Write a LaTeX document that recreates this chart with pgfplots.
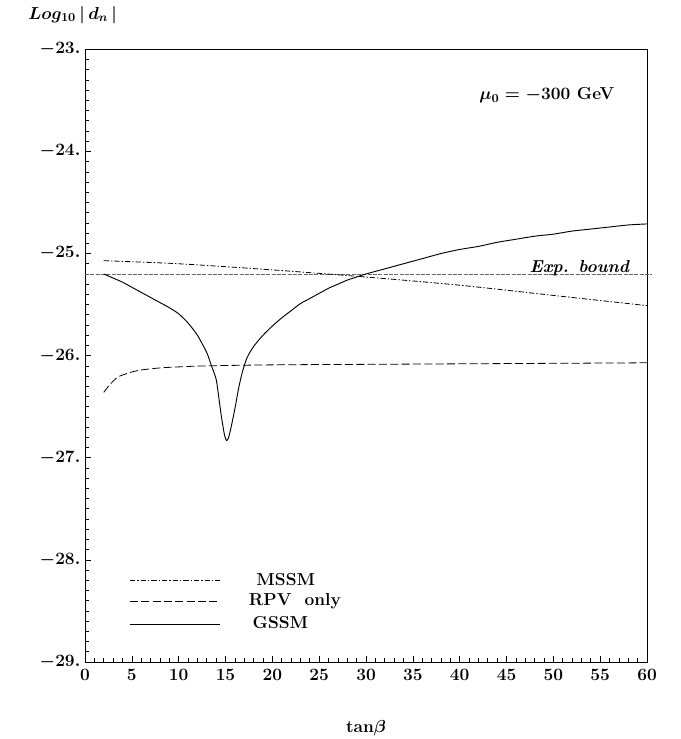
\RequirePackage{fix-cm}
\documentclass[border=0pt]{standalone}
\usepackage{pgfplots}
\pgfplotsset{compat=1.18}
\usepackage{amsmath}
\newcommand{\tf}{\fontsize{13}{15}\selectfont}
\begin{document}
\begin{tikzpicture}
\begin{axis}[
  scale only axis,
  width=421.5pt,
  height=459.5pt,
  xmin=0, xmax=60,
  ymin=-29, ymax=-23,
  xtick={0,5,...,60},
  ytick={-29,-28,-27,-26,-25,-24,-23},
  yticklabels={$-29.$,$-28.$,$-27.$,$-26.$,$-25.$,$-24.$,$-23.$},
  minor x tick num=4,
  minor y tick num=9,
  tick align=inside,
  xtick pos=bottom,
  ytick pos=left,
  major tick length=4.5pt,
  minor tick length=3pt,
  tick style={black, line width=0.5pt},
  axis line style={line width=0.5pt},
  tick label style={font=\tf\boldmath\bfseries},
  xticklabel style={yshift=-2pt},
  clip=false,
]
% experimental bound
\addplot[gray!80!black, line width=0.6pt, dash pattern=on 3pt off 1pt] coordinates {(0,-25.2) (60.5,-25.2)};
% MSSM
\addplot[black, line width=0.6pt, smooth, dash pattern=on 4pt off 1.5pt on 1pt off 1.5pt] coordinates {
(2,-25.07) (10,-25.10) (20,-25.16) (30,-25.23) (40,-25.31) (50,-25.41) (60,-25.51)};
% RPV only
\addplot[black, line width=0.6pt, smooth, dash pattern=on 6pt off 2.5pt] coordinates {
(2,-26.36) (2.5,-26.30) (3,-26.25) (3.5,-26.21) (4,-26.19) (5,-26.16) (6,-26.14)
(8,-26.12) (10,-26.11) (13,-26.10) (20,-26.09) (30,-26.085) (40,-26.08) (50,-26.075) (60,-26.07)};
% GSSM
\addplot[black, line width=0.7pt, smooth, tension=0.4] coordinates {
(2,-25.20) (3,-25.24) (4,-25.28) (5,-25.33) (6,-25.38) (7,-25.43) (8,-25.48) (9,-25.53)
(10,-25.59) (11,-25.68) (12,-25.80) (13,-25.97) (13.5,-26.10) (14,-26.23) (14.3,-26.42)
(14.6,-26.62) (14.9,-26.78) (15.1,-26.83) (15.3,-26.81) (15.6,-26.70) (16,-26.52)
(16.4,-26.32) (16.8,-26.16) (17.3,-26.02) (18,-25.91) (19,-25.80) (20,-25.71) (21,-25.63)
(22,-25.56) (23,-25.49) (24,-25.44) (25,-25.39) (26,-25.34) (27,-25.30) (28,-25.26)
(29,-25.23) (30,-25.20) (32,-25.15) (34,-25.10) (36,-25.05) (38,-25.00) (40,-24.96)
(42,-24.93) (44,-24.89) (46,-24.86) (48,-24.83) (50,-24.81) (52,-24.78) (54,-24.76)
(56,-24.74) (58,-24.72) (60,-24.71)};
% legend samples
\addplot[black, line width=0.6pt, dash pattern=on 4pt off 1.5pt on 1pt off 1.5pt] coordinates {(4.8,-28.20) (14.4,-28.20)};
\addplot[black, line width=0.6pt, dash pattern=on 6pt off 2.5pt] coordinates {(4.8,-28.41) (14.4,-28.41)};
\addplot[black, line width=1pt] coordinates {(4.8,-28.63) (14.4,-28.63)};
\node[anchor=west, font=\tf\bfseries] at (axis cs:17.8,-28.19) {MSSM};
\node[anchor=west, font=\tf\bfseries] at (axis cs:17.0,-28.40) {RPV\ \ only};
\node[anchor=west, font=\tf\bfseries] at (axis cs:17.4,-28.61) {GSSM};
% annotations
\node[font=\tf\boldmath\bfseries] at (axis cs:49.3,-23.45) {$\mu_0=-300$ GeV};
\node[anchor=base east, font=\tf\bfseries\itshape] at (axis cs:58.6,-25.19) {Exp. bound};
\node[anchor=west, font=\tf\boldmath] at ([xshift=-46pt,yshift=25.75pt]current axis.north west) {$Log_{10}\,|\,d_n\,|$};
\node[font=\tf\boldmath\bfseries] at ([yshift=-49.5pt]current axis.south) {tan$\beta$};
\end{axis}
\pgfresetboundingbox
\path ([xshift=-63.75pt,yshift=-57.75pt]current axis.south west) rectangle ([xshift=24.75pt,yshift=37pt]current axis.north east);
\end{tikzpicture}
\end{document}
